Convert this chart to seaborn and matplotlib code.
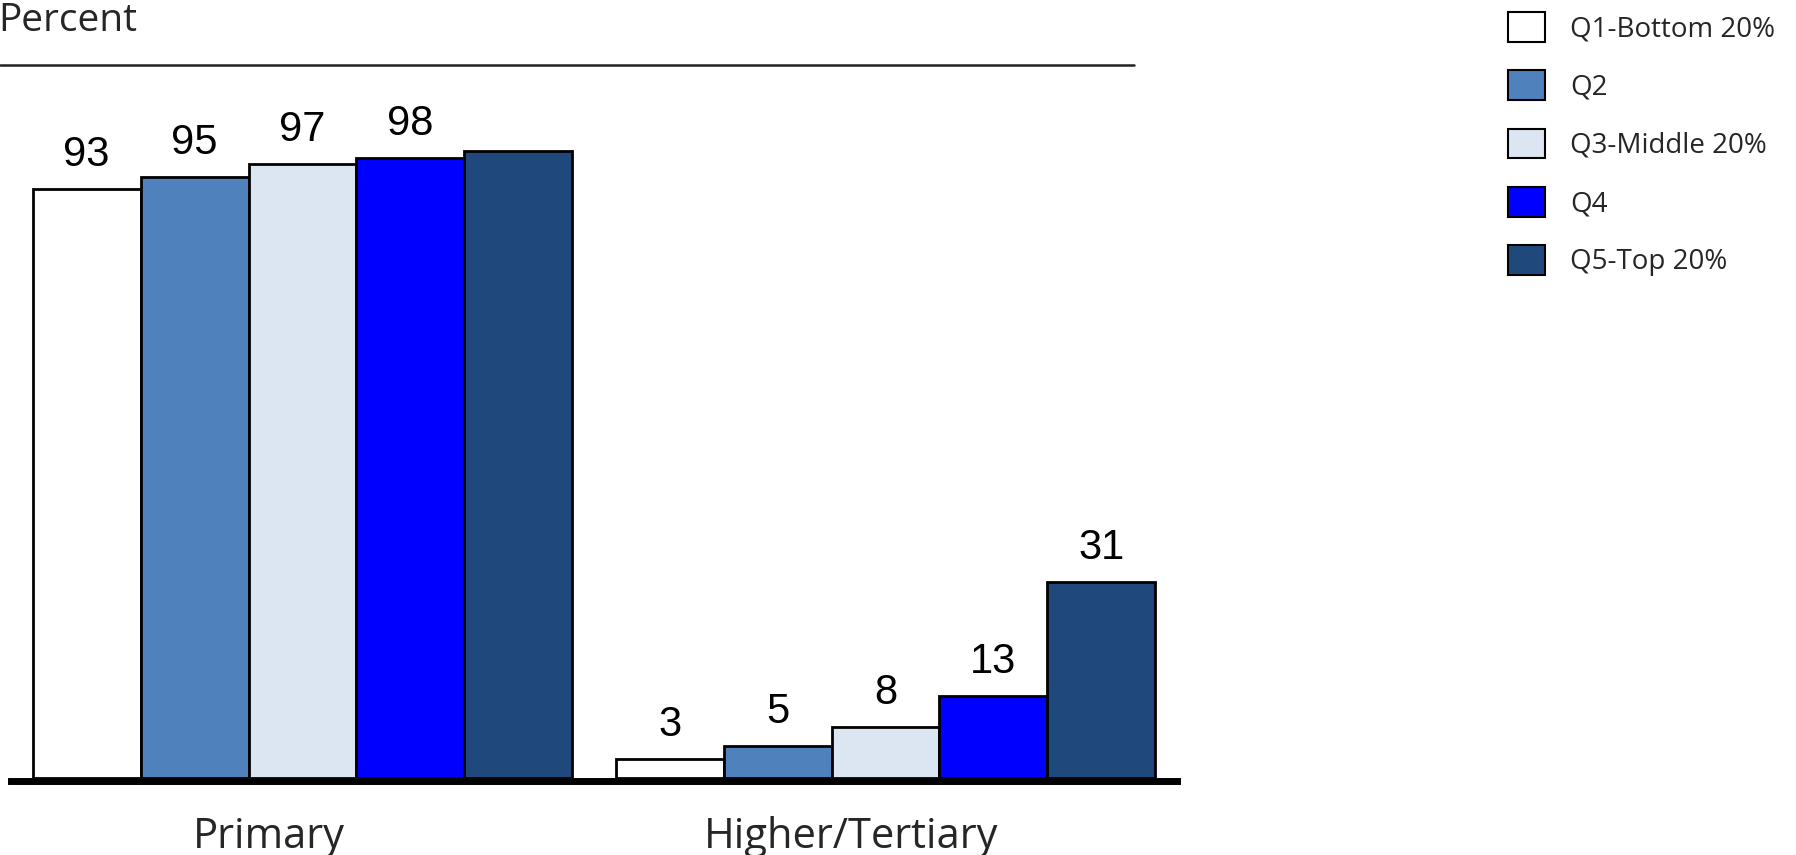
import matplotlib
matplotlib.use("Agg")
import matplotlib.pyplot as plt
import matplotlib.transforms as mtransforms
from matplotlib.lines import Line2D
from matplotlib.patches import Patch
import seaborn as sns
import pandas as pd

categories = ["Primary", "Higher/Tertiary"]
quintiles = ["Q1-Bottom 20%", "Q2", "Q3-Middle 20%", "Q4", "Q5-Top 20%"]
primary_values = [93, 95, 97, 98, 99]
higher_values = [3, 5, 8, 13, 31]
primary_labels = ["93", "95", "97", "98", ""]
higher_labels = ["3", "5", "8", "13", "31"]
colors = ["#FFFFFF", "#4F81BD", "#DCE6F2", "#0000FF", "#1F497D"]

rows = []
for q, pv, hv in zip(quintiles, primary_values, higher_values):
    rows.append({"Level": categories[0], "Quintile": q, "Percent": pv})
    rows.append({"Level": categories[1], "Quintile": q, "Percent": hv})
df = pd.DataFrame(rows)

sns.set_style("white")
plt.rcParams["font.family"] = ["Open Sans", "DejaVu Sans"]

W, H = 1796, 855
fig = plt.figure(figsize=(W / 100, H / 100), dpi=100)
ax = fig.add_axes([11 / W, 77 / H, 1166 / W, 633 / H])

sns.barplot(data=df, x="Level", y="Percent", hue="Quintile", order=categories,
            hue_order=quintiles, palette=colors, width=0.926, gap=0,
            edgecolor="black", linewidth=2.0, saturation=1, legend=False, ax=ax,
            errorbar=None)

for cont, pl, hl in zip(ax.containers, primary_labels, higher_labels):
    ax.bar_label(cont, labels=[pl, hl], padding=10, fontsize=30,
                 family="Liberation Sans", color="black", clip_on=False)

ax.set_xlim(-0.5, 1.5)
ax.set_ylim(0, 100)
ax.set_xlabel("")
ax.set_ylabel("")
ax.set_yticks([])
for s in ["left", "right", "top"]:
    ax.spines[s].set_visible(False)
ax.spines["bottom"].set_linewidth(5)
ax.spines["bottom"].set_color("black")
ax.spines["bottom"].set_position(("outward", 2.5))
ax.tick_params(axis="x", length=0, pad=25, labelsize=30)
offset = mtransforms.ScaledTranslation(-34 / 100, 0, fig.dpi_scale_trans)
for lbl in ax.get_xticklabels():
    lbl.set_transform(lbl.get_transform() + offset)

fig.text(-2 / W, 1 - 31 / H, "Percent", fontsize=28, va="baseline", ha="left")
fig.add_artist(Line2D([0, 1134 / W], [1 - 65 / H] * 2, color="#222222", lw=1.8,
                      transform=fig.transFigure))

handles = [Patch(facecolor=c, edgecolor="black", linewidth=1.5) for c in colors]
fig.legend(handles, quintiles, loc="upper left", bbox_to_anchor=(1508 / W, 1 - 12 / H),
           frameon=False, fontsize=20, handlelength=1.33, handleheight=1.26,
           handletextpad=0.9, labelspacing=0.98, borderpad=0, borderaxespad=0)

fig.savefig("out.png", dpi=100, facecolor="white")
